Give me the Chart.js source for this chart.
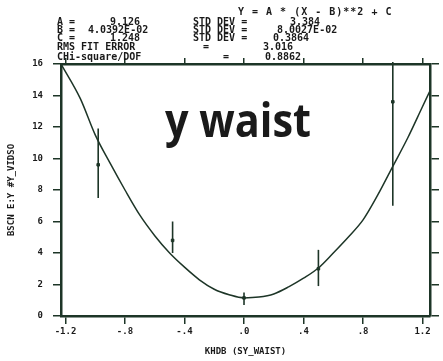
<!DOCTYPE html>
<html>
<head>
<meta charset="utf-8">
<script src="https://cdn.jsdelivr.net/npm/chart.js@4.4.0/dist/chart.umd.min.js"></script>
<style>
html,body{margin:0;padding:0;background:#fff;}
</style>
</head>
<body>
<canvas id="waistChart" width="443" height="361"></canvas>
<script>
// tick values / labels
var xTicks = [-1.2, -0.8, -0.4, 0, 0.4, 0.8, 1.2];
var xTickLabels = ['-1.2', '-.8', '-.4', '.0', '.4', '.8', '1.2'];
var yTicks = [0, 2, 4, 6, 8, 10, 12, 14, 16];

// measured points with error bars
var measX = [-0.98, -0.48, 0.0, 0.50, 1.0];
var measY = [9.6, 4.8, 1.15, 3.0, 13.6];
var errLow = [7.5, 4.0, 0.7, 1.9, 7.0];
var errHigh = [11.9, 6.0, 1.5, 4.2, 20.2];

// fitted parabola
var fitX = [-1.23, -1.1, -1.0, -0.9, -0.8, -0.7, -0.6, -0.5, -0.4, -0.3, -0.2, -0.1, 0, 0.1, 0.2, 0.3, 0.4, 0.5, 0.6, 0.7, 0.8, 0.9, 1.0, 1.1, 1.2, 1.25];
var fitY = [16.0, 13.8, 11.5, 9.7, 8.0, 6.4, 5.1, 4.0, 3.1, 2.3, 1.7, 1.35, 1.15, 1.2, 1.4, 1.85, 2.4, 3.05, 4.0, 5.0, 6.1, 7.7, 9.5, 11.3, 13.3, 14.3];

// fit summary text
var fitFormula = 'Y = A * (X - B)**2 + C';
var fitNames = ['A =', 'B =', 'C ='];
var fitValues = ['9.126', '4.0392E-02', '1.248'];
var fitStdDev = ['3.384', '8.0027E-02', '0.3864'];
var rmsError = '3.016';
var chiDof = '0.8862';

var ink = '#1d3527';
var txt = '#1a1a1a';
var monoFont = {family: '"DejaVu Sans Mono", monospace', size: 9, weight: 'bold'};

function fixedTicks(list) {
    return function(scale) {
        scale.ticks = list.map(function(v){ return {value: v}; });
    };
}

var errorBars = {
    id: 'errorBars',
    afterDatasetsDraw: function(chart) {
        var ctx = chart.ctx, xs = chart.scales.x, ys = chart.scales.y, a = chart.chartArea;
        ctx.save();
        ctx.beginPath();
        ctx.rect(a.left, a.top - 2, a.right - a.left, a.bottom - a.top + 2);
        ctx.clip();
        ctx.strokeStyle = ink;
        ctx.lineWidth = 1.6;
        for (var i = 0; i < measX.length; i++) {
            var px = xs.getPixelForValue(measX[i]);
            ctx.beginPath();
            ctx.moveTo(px, ys.getPixelForValue(errLow[i]));
            ctx.lineTo(px, ys.getPixelForValue(errHigh[i]));
            ctx.stroke();
        }
        ctx.restore();
    }
};

var annotations = {
    id: 'annotations',
    afterDraw: function(chart) {
        var ctx = chart.ctx;
        ctx.save();
        ctx.fillStyle = txt;
        ctx.font = 'bold 10px "DejaVu Sans Mono", monospace';
        ctx.textBaseline = 'alphabetic';
        ctx.letterSpacing = '1px';
        ctx.fillText(fitFormula, 238, 15);
        ctx.letterSpacing = '0px';
        var rows = [25, 33, 41];
        var valX = [110, 88, 110];
        var stdX = [290, 277, 273];
        for (var i = 0; i < 3; i++) {
            ctx.fillText(fitNames[i], 57, rows[i]);
            ctx.fillText(fitValues[i], valX[i], rows[i]);
            ctx.fillText('STD DEV =', 193, rows[i]);
            ctx.fillText(fitStdDev[i], stdX[i], rows[i]);
        }
        ctx.fillText('RMS FIT ERROR', 57, 50);
        ctx.fillText('=', 203, 50);
        ctx.fillText(rmsError, 263, 50);
        ctx.fillText('CHi-square/DOF', 57, 60);
        ctx.fillText('=', 223, 60);
        ctx.fillText(chiDof, 265, 60);

        ctx.font = 'bold 46px "Open Sans", sans-serif';
        ctx.fillText('y waist', 165, 137, 146);
        ctx.restore();
    }
};

var edgeAxis = function(pos, size, list, len) {
    return {
        type: 'linear',
        position: pos,
        afterBuildTicks: fixedTicks(list),
        afterFit: function(s) { if (pos === 'top' || pos === 'bottom') s.height = size; else s.width = size; },
        ticks: {display: true, callback: function(){ return ''; }, autoSkip: false, maxRotation: 0},
        grid: {drawOnChartArea: false, tickLength: len, color: ink, lineWidth: 1.5},
        border: {color: ink, width: 2.5}
    };
};

var xTop = edgeAxis('top', 64, xTicks, 6);
xTop.min = -1.23; xTop.max = 1.25;
var yRight = edgeAxis('right', 13, yTicks, 9);
yRight.min = 0; yRight.max = 16;

new Chart(document.getElementById('waistChart'), {
    type: 'scatter',
    data: {
        datasets: [{
            type: 'line',
            data: fitX.map(function(x, i){ return {x: x, y: fitY[i]}; }),
            borderColor: ink,
            borderWidth: 1.5,
            pointRadius: 0,
            cubicInterpolationMode: 'monotone',
            fill: false
        }, {
            data: measX.map(function(x, i){ return {x: x, y: measY[i]}; }),
            pointStyle: 'rect',
            pointRadius: 1.8,
            backgroundColor: ink,
            borderColor: ink,
            borderWidth: 1
        }]
    },
    options: {
        responsive: false,
        animation: false,
        devicePixelRatio: 1,
        layout: {padding: 0},
        plugins: {legend: {display: false}, tooltip: {enabled: false}},
        scales: {
            x: {
                type: 'linear',
                position: 'bottom',
                min: -1.23,
                max: 1.25,
                afterBuildTicks: fixedTicks(xTicks),
                afterFit: function(s) { s.height = 45; },
                ticks: {
                    callback: function(v, i) { return xTickLabels[i]; },
                    autoSkip: false, maxRotation: 0, padding: 2,
                    color: txt, font: monoFont
                },
                grid: {drawOnChartArea: false, tickLength: 8, color: ink, lineWidth: 1.5},
                border: {color: ink, width: 2.5},
                title: {display: true, text: 'KHDB (SY_WAIST)', color: txt, font: monoFont, padding: {top: 2, bottom: 4}}
            },
            x2: xTop,
            y: {
                type: 'linear',
                position: 'left',
                min: 0,
                max: 16,
                afterBuildTicks: fixedTicks(yTicks),
                afterFit: function(s) { s.width = 61; },
                ticks: {
                    callback: function(v) { return String(v); },
                    autoSkip: false, padding: 10,
                    color: txt, font: monoFont
                },
                grid: {drawOnChartArea: false, tickLength: 8, color: ink, lineWidth: 1.5},
                border: {color: ink, width: 2.5},
                title: {display: true, text: 'BSCN E:Y #Y_VIDSO', color: txt, font: monoFont, padding: {top: 6, bottom: 0}}
            },
            y2: yRight
        }
    },
    plugins: [errorBars, annotations]
});
</script>
</body>
</html>
